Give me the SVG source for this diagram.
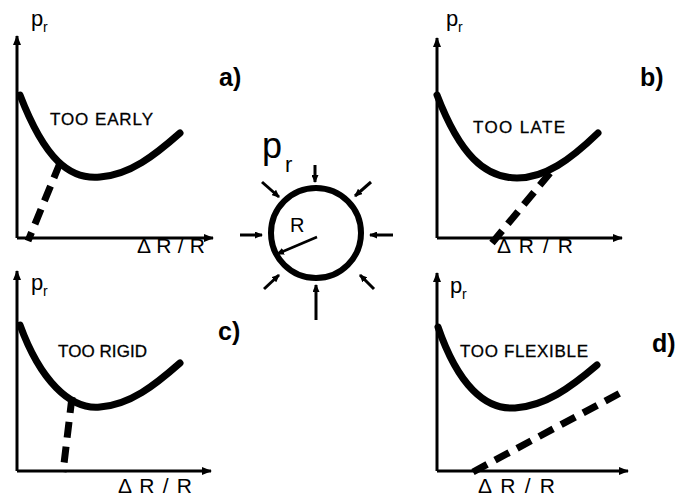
<svg xmlns="http://www.w3.org/2000/svg" width="678" height="497" viewBox="0 0 678 497">
<style>
.ax{fill:none;stroke:#000;stroke-width:3;marker-end:url(#ah)}
.cv{fill:none;stroke:#000;stroke-width:7;stroke-linecap:round}
.ds{fill:none;stroke:#000;stroke-width:7;stroke-dasharray:16 9}
.t{font-family:"Liberation Sans",Arial,sans-serif;font-size:17px;fill:#000;stroke:#000;stroke-width:0.3}
.lb{font-family:"Liberation Sans",Arial,sans-serif;font-size:25px;font-weight:bold;fill:#000}
.xl{font-family:"Liberation Sans",Arial,sans-serif;font-size:21px;fill:#000}
.p{font-family:"Liberation Sans",Arial,sans-serif;font-size:22px;fill:#000}
.s{font-family:"Liberation Sans",Arial,sans-serif;font-size:14px;fill:#000}
.pa{fill:none;stroke:#000;stroke-width:3;marker-end:url(#sh)}
</style>
<defs>
<marker id="ah" markerWidth="10" markerHeight="8" refX="9" refY="4" orient="auto" markerUnits="userSpaceOnUse"><path d="M0,0 L10,4 L0,8 Z" fill="#000"/></marker>
<marker id="sh" markerWidth="8" markerHeight="7" refX="7" refY="3.5" orient="auto" markerUnits="userSpaceOnUse"><path d="M0,0 L8,3.5 L0,7 Z" fill="#000"/></marker>
</defs>
<rect width="678" height="497" fill="#fff"/>
<g id="panel-a">
<path class="ax" d="M17,238 V36"/>
<path class="ax" d="M17,238 H213"/>
<text class="p" x="31" y="26">p</text><text class="s" x="43" y="32">r</text>
<path class="cv" d="M20,95 C45,160 70,180 100,177 C130,175 155,155 180,133"/>
<path class="ds" d="M60,163 L28,241"/>
<text class="t" x="50" y="125" textLength="103">TOO EARLY</text>
<text class="lb" x="219" y="86">a)</text>
<text class="xl" x="137" y="253" textLength="68">Δ R / R</text>
</g>
<g id="panel-b">
<path class="ax" d="M437,238 V38"/>
<path class="ax" d="M437,238 H622"/>
<text class="p" x="446" y="26">p</text><text class="s" x="458" y="32">r</text>
<path class="cv" d="M437,95 C460,155 485,178 517,178 C545,178 570,160 598,133"/>
<path class="ds" d="M550,173 L492,243"/>
<text class="t" x="473" y="133" textLength="92">TOO LATE</text>
<text class="lb" x="640" y="86">b)</text>
<text class="xl" x="497" y="253" textLength="76">Δ R / R</text>
</g>
<g id="panel-c">
<path class="ax" d="M17,471 V271"/>
<path class="ax" d="M17,471 H211"/>
<text class="p" x="31" y="290">p</text><text class="s" x="43" y="296">r</text>
<path class="cv" d="M20,325 C40,380 70,410 100,407 C130,405 155,385 180,363"/>
<path class="ds" d="M72,397 L63,472"/>
<text class="t" x="58" y="357" textLength="89">TOO RIGID</text>
<text class="lb" x="218" y="340">c)</text>
<text class="xl" x="118" y="493" textLength="74">Δ R / R</text>
</g>
<g id="panel-d">
<path class="ax" d="M437,471 V273"/>
<path class="ax" d="M437,471 H628"/>
<text class="p" x="450" y="293">p</text><text class="s" x="462" y="299">r</text>
<path class="cv" d="M438,327 C458,385 485,410 515,408 C545,406 570,388 597,365"/>
<path class="ds" d="M473,472 L622,392"/>
<text class="t" x="460" y="357" textLength="128">TOO FLEXIBLE</text>
<text class="lb" x="652" y="352">d)</text>
<text class="xl" x="478" y="493" textLength="77">Δ R / R</text>
</g>
<g id="bubble">
<circle cx="316" cy="233" r="45" fill="none" stroke="#000" stroke-width="6"/>
<text x="262" y="158" font-family="Liberation Sans,Arial,sans-serif" font-size="36" fill="#000">p</text>
<text x="285" y="172" font-family="Liberation Sans,Arial,sans-serif" font-size="22" fill="#000">r</text>
<text x="290" y="232" font-family="Liberation Sans,Arial,sans-serif" font-size="20" fill="#000">R</text>
<path d="M317,237 L277,254" fill="none" stroke="#000" stroke-width="2.5" marker-end="url(#sh)"/>
</g>
<g id="connectors">
<path class="pa" d="M315,165 V182"/>
<path class="pa" d="M316,320 V285"/>
<path class="pa" d="M240,235 H262"/>
<path class="pa" d="M393,235 H370"/>
<path class="pa" d="M262,182 L279,197"/>
<path class="pa" d="M371,182 L355,196"/>
<path class="pa" d="M264,289 L279,275"/>
<path class="pa" d="M374,289 L360,275"/>
</g>
</svg>
